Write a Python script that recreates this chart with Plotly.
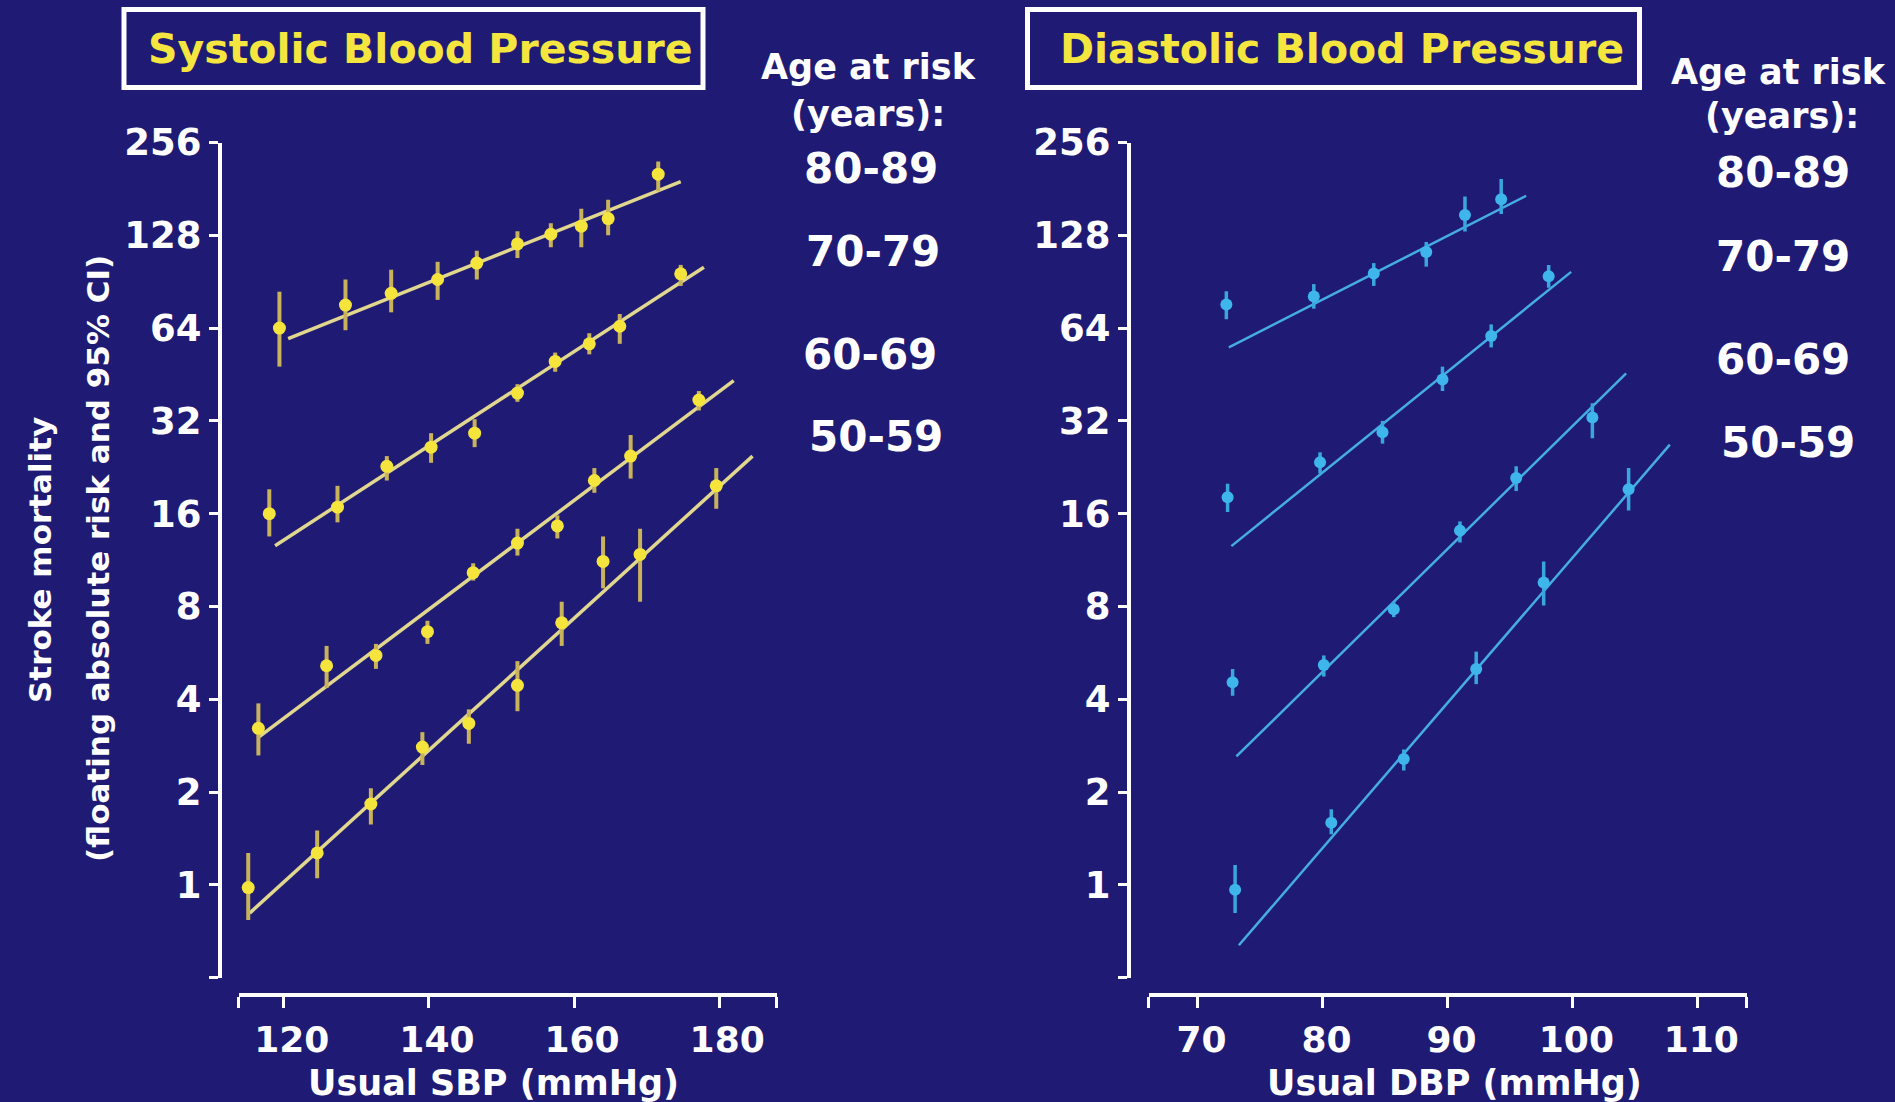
import math
import plotly.graph_objects as go

W, H = 1895, 1102

# ---------------- data ----------------
age_groups = ["80-89", "70-79", "60-69", "50-59"]

# Systolic panel
sbp_x = {
    "80-89": [119.4, 128.5, 134.8, 141.2, 146.6, 152.2, 156.8, 161.0, 164.7, 171.6],
    "70-79": [118.0, 127.4, 134.2, 140.3, 146.3, 152.2, 157.4, 162.1, 166.3, 174.7],
    "60-69": [116.5, 125.9, 132.7, 139.8, 146.1, 152.2, 157.7, 162.8, 167.8, 177.2],
    "50-59": [115.1, 124.6, 132.0, 139.1, 145.5, 152.2, 158.3, 164.0, 169.1, 179.6],
}
sbp_risk = {
    "80-89": [64, 76, 83, 92, 104, 120, 129, 137, 145, 202],
    "70-79": [16, 16.8, 22.8, 26.3, 29.2, 39.4, 49.9, 56.9, 64.9, 96],
    "60-69": [3.22, 5.14, 5.55, 6.63, 10.3, 12.85, 14.6, 20.5, 24.6, 37.4],
    "50-59": [0.98, 1.27, 1.83, 2.80, 3.34, 4.44, 7.08, 11.2, 11.8, 19.7],
}
sbp_ci_lo = {
    "80-89": [48, 63, 72, 79, 92, 108, 117, 117, 128, 178],
    "70-79": [13.5, 15.0, 20.5, 23.4, 26.3, 36.9, 46.2, 52.6, 56.9, 87.7],
    "60-69": [2.63, 4.35, 5.02, 6.05, 9.71, 11.7, 13.3, 18.7, 20.8, 34.6],
    "50-59": [0.77, 1.05, 1.57, 2.45, 2.87, 3.66, 5.96, 9.16, 8.29, 16.6],
}
sbp_ci_hi = {
    "80-89": [84, 92, 99, 105, 114, 132, 140, 156, 167, 222],
    "70-79": [19.2, 19.7, 24.6, 29.2, 32.4, 42.1, 53.3, 61.6, 71.1, 102.6],
    "60-69": [3.88, 5.96, 6.05, 7.19, 11.05, 14.3, 15.8, 22.5, 28.8, 40.0],
    "50-59": [1.27, 1.50, 2.06, 3.13, 3.71, 5.32, 8.29, 13.5, 14.3, 22.5],
}
sbp_fit_x = {
    "80-89": [120.6, 174.7],
    "70-79": [118.8, 177.9],
    "60-69": [116.4, 182.0],
    "50-59": [115.3, 184.6],
}
sbp_fit_y = {
    "80-89": [59.2, 191],
    "70-79": [12.6, 100.8],
    "60-69": [3.0, 43.2],
    "50-59": [0.81, 24.6],
}

# Diastolic panel
dbp_x = {
    "80-89": [72.3, 79.3, 84.1, 88.3, 91.4, 94.3],
    "70-79": [72.4, 79.8, 84.8, 89.6, 93.5, 98.1],
    "60-69": [72.8, 80.1, 85.7, 91.0, 95.5, 101.6],
    "50-59": [73.0, 80.7, 86.5, 92.3, 97.7, 104.5],
}
dbp_risk = {
    "80-89": [76.3, 81.1, 96.2, 113, 149, 167.5],
    "70-79": [18.1, 23.5, 29.4, 43.6, 60.3, 94.2],
    "60-69": [4.54, 5.17, 7.83, 14.1, 20.9, 32.8],
    "50-59": [0.965, 1.59, 2.56, 5.02, 9.57, 19.2],
}
dbp_ci_lo = {
    "80-89": [68.4, 74.0, 87.7, 101.3, 131.7, 150],
    "70-79": [16.2, 21.6, 27.0, 40.0, 55.4, 86.5],
    "60-69": [4.11, 4.74, 7.39, 12.9, 18.95, 28.1],
    "50-59": [0.81, 1.46, 2.35, 4.48, 8.06, 16.4],
}
dbp_ci_hi = {
    "80-89": [84.3, 88.9, 104, 121.8, 171, 195],
    "70-79": [20.0, 25.3, 32.0, 48.0, 65.8, 102.6],
    "60-69": [5.02, 5.55, 8.29, 15.1, 22.8, 36.5],
    "50-59": [1.16, 1.76, 2.75, 5.71, 11.2, 22.5],
}
dbp_fit_x = {
    "80-89": [72.5, 96.3],
    "70-79": [72.7, 99.9],
    "60-69": [73.1, 104.3],
    "50-59": [73.3, 107.8],
}
dbp_fit_y = {
    "80-89": [55.4, 172],
    "70-79": [12.56, 97.4],
    "60-69": [2.61, 45.6],
    "50-59": [0.637, 26.8],
}

y_tick_vals = [0.5, 1, 2, 4, 8, 16, 32, 64, 128, 256]
y_tick_text = ["", "1", "2", "4", "8", "16", "32", "64", "128", "256"]
sbp_ticks = [120, 140, 160, 180]
dbp_ticks = [70, 80, 90, 100, 110]
sbp_range = [113.8, 187.9]
dbp_range = [66.1, 113.96]
y_range = [0.5, 256]

# ---------------- styling ----------------
BG = "#1F1B74"
WHITE = "#FFFFFF"
Y_PT, Y_ERR, Y_LINE = "#F4E43C", "#C8B25C", "#E2D78E"
C_PT, C_ERR, C_LINE = "#3EB6EC", "#3AA6DE", "#45ACE4"
FONT = "DejaVu Sans"


def fx(p):
    return p / W


def fy(p):
    return 1 - p / H


fig = go.Figure()


def add_panel(xs, ys, lo, hi, fitx, fity, xa, ya, pt, err, line, lw, msize, ethick):
    for g in age_groups:
        fig.add_trace(go.Scatter(
            x=fitx[g], y=fity[g], mode="lines", xaxis=xa, yaxis=ya,
            line=dict(color=line, width=lw), showlegend=False, hoverinfo="skip"))
    for g in age_groups:
        plus = [h - v for h, v in zip(hi[g], ys[g])]
        minus = [v - l for v, l in zip(ys[g], lo[g])]
        fig.add_trace(go.Scatter(
            x=xs[g], y=ys[g], mode="markers", xaxis=xa, yaxis=ya, name=g,
            marker=dict(color=pt, size=msize, line=dict(width=0)),
            error_y=dict(type="data", symmetric=False, array=plus, arrayminus=minus,
                         color=err, thickness=ethick, width=0),
            showlegend=False))


add_panel(sbp_x, sbp_risk, sbp_ci_lo, sbp_ci_hi, sbp_fit_x, sbp_fit_y,
          "x", "y", Y_PT, Y_ERR, Y_LINE, 3.5, 13, 4)
add_panel(dbp_x, dbp_risk, dbp_ci_lo, dbp_ci_hi, dbp_fit_x, dbp_fit_y,
          "x2", "y2", C_PT, C_ERR, C_LINE, 2.5, 12, 3.5)

tickfont = dict(family=FONT, size=36, color=WHITE, weight="bold")
ytickfont = dict(family=FONT, size=37, color=WHITE, weight="bold")

common_x = dict(anchor="free", position=fy(995.3), showline=True, linecolor=WHITE,
                linewidth=4, ticks="outside", ticklen=11, tickwidth=3, tickcolor=WHITE,
                showgrid=False, zeroline=False, tickfont=tickfont, automargin=False)
common_y = dict(type="log", anchor="free", showline=True, linecolor=WHITE, linewidth=4,
                ticks="outside", ticklen=9, tickwidth=3, tickcolor=WHITE,
                showgrid=False, zeroline=False, tickfont=ytickfont, automargin=False,
                range=[math.log10(y_range[0]), math.log10(y_range[1])],
                domain=[fy(977.7), fy(142.5)],
                tickvals=y_tick_vals, ticktext=y_tick_text)

fig.update_layout(
    width=W, height=H, autosize=False,
    margin=dict(l=0, r=0, t=0, b=0, pad=0, autoexpand=False),
    showlegend=False,
    paper_bgcolor=BG, plot_bgcolor=BG,
    font=dict(family=FONT, color=WHITE, weight="bold"),
    xaxis=dict(common_x, domain=[fx(238.8), fx(776.5)], range=sbp_range,
               tickvals=[sbp_range[0]] + sbp_ticks + [sbp_range[1]],
               ticktext=[""] + [str(t) for t in sbp_ticks] + [""],
               ticklabelshift=8),
    xaxis2=dict(common_x, domain=[fx(1148.9), fx(1746.8)], range=dbp_range,
                tickvals=[dbp_range[0]] + dbp_ticks + [dbp_range[1]],
                ticktext=[""] + [str(t) for t in dbp_ticks] + [""],
                ticklabelshift=4),
    yaxis=dict(common_y, position=fx(220)),
    yaxis2=dict(common_y, position=fx(1129)),
)

# title boxes
for (x0, x1) in [(124, 703), (1027.5, 1639.5)]:
    fig.add_shape(type="rect", xref="paper", yref="paper",
                  x0=fx(x0), x1=fx(x1), y0=fy(87.5), y1=fy(9.5),
                  line=dict(color=WHITE, width=5), fillcolor=BG, layer="above")


def ann(text, x, y, size, color=WHITE, angle=0):
    fig.add_annotation(text=text, x=fx(x), y=fy(y), xref="paper", yref="paper",
                       xanchor="center", yanchor="middle", showarrow=False,
                       textangle=angle,
                       font=dict(family=FONT, size=size, color=color, weight="bold"))


ann("Systolic Blood Pressure", 420, 49, 41, "#F5E53F")
ann("Diastolic Blood Pressure", 1342, 49, 41, "#F5E53F")

ann("Age at risk", 868.5, 67, 35)
ann("(years):", 867.5, 114, 35)
ann("Age at risk", 1778.5, 72, 35)
ann("(years):", 1781.7, 116, 35)

left_age_pos = [(870.5, 169), (872.6, 251), (870, 354), (876, 436)]
right_age_pos = [(1783, 172), (1783, 256), (1783, 360), (1788, 442)]
for g, (x, y) in zip(age_groups, left_age_pos):
    ann(g, x, y, 42)
for g, (x, y) in zip(age_groups, right_age_pos):
    ann(g, x, y, 42)

ann("Usual SBP (mmHg)", 493.5, 1083, 35)
ann("Usual DBP (mmHg)", 1454.7, 1083, 35)

ann("Stroke mortality", 40, 560, 31, angle=-90)
ann("(floating absolute risk and 95% CI)", 98, 559, 31, angle=-90)

fig.write_html("out.html", config={"displayModeBar": False},
               post_script="document.body.style.margin='0';")
